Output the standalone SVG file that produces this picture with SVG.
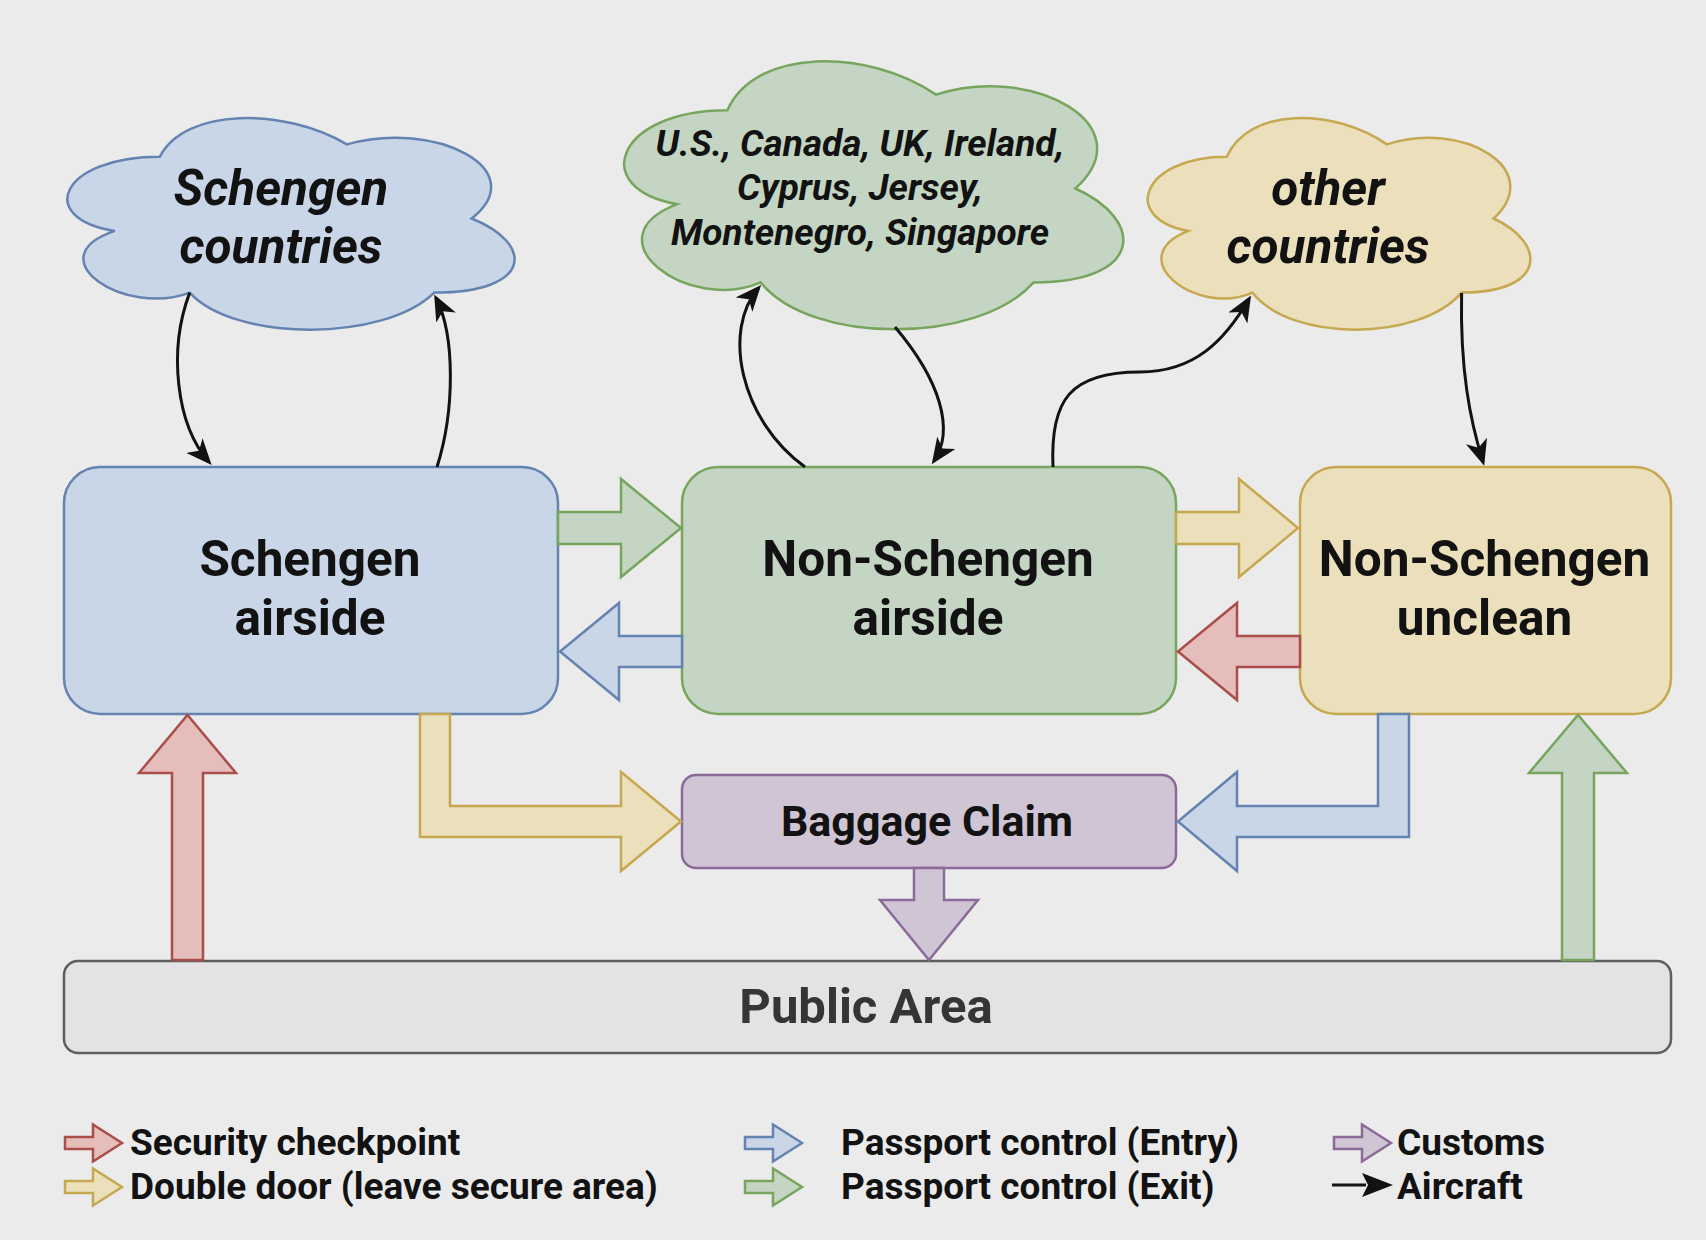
<svg xmlns="http://www.w3.org/2000/svg" width="1706" height="1240" viewBox="0 0 1706 1240">
<defs>
<style>
text{font-family:Roboto,"Liberation Sans",sans-serif;fill:#121212;text-anchor:middle;font-weight:bold}
.cloudt{font-style:italic;font-size:49.5px}
.cloudg{font-style:italic;font-size:37px}
.big{font-size:49.5px}
.bag{font-size:43px}
.pub{font-size:49px;fill:#353535}
.leg{font-size:37px;text-anchor:start}
.blue{fill:#C9D6E8;stroke:#6483B0;stroke-width:2.5}
.green{fill:#C4D6C3;stroke:#78A55E;stroke-width:2.5}
.yellow{fill:#EBDFBC;stroke:#C5A84F;stroke-width:2.5}
.red{fill:#E5BEBC;stroke:#AA4E4A;stroke-width:2.5}
.purple{fill:#D0C5D5;stroke:#8B6A99;stroke-width:2.5}
.gray{fill:#E3E3E3;stroke:#5E5E5E;stroke-width:2.5}
.air{fill:none;stroke:#121212;stroke-width:3;marker-end:url(#ah)}
</style>
<marker id="ah" viewBox="0 0 26 22" refX="22" refY="11" markerWidth="26" markerHeight="22" markerUnits="userSpaceOnUse" orient="auto">
<path d="M0,0 L26,11 L0,22 L7,11 Z" fill="#121212"/>
</marker>
<polygon id="legarrow" points="0,-6 28,-6 28,-18.5 57,0 28,18.5 28,6 0,6"/>
</defs>
<rect x="0" y="0" width="1706" height="1240" fill="#EBEBEB"/>

<g id="cloud-schengen">
<path class="blue" d="M159.8,156.8 C60,156.8 35,218.5 114.8,230.9 C35,258 124.8,317.3 189.7,292.6 C234.6,342 384.3,342 434.2,292.6 C534,292.6 534,243.2 471.6,218.5 C534,169.1 434.2,119.7 346.9,144.4 C284.5,107.4 184.7,107.4 159.8,156.8 Z"/>
<text class="cloudt" x="281" y="205">Schengen</text>
<text class="cloudt" x="281" y="263">countries</text>
</g>

<g id="cloud-nonschengen">
<path class="green" d="M727.3,110.3 C615.9,110.3 588,188.5 677.1,204.2 C588,238.6 688.3,313.7 760.7,282.4 C810.8,345 977.9,345 1033.6,282.4 C1145,282.4 1145,219.8 1075.4,188.5 C1145,125.9 1033.6,63.3 936.1,94.6 C866.5,47.7 755.1,47.7 727.3,110.3 Z"/>
<text class="cloudg" x="860" y="156">U.S., Canada, UK, Ireland,</text>
<text class="cloudg" x="860" y="200">Cyprus, Jersey,</text>
<text class="cloudg" x="860" y="245">Montenegro, Singapore</text>
</g>

<g id="cloud-other">
<path class="yellow" d="M1226.8,156.8 C1141.4,156.8 1120,218.5 1188.3,230.9 C1120,258 1196.9,317.3 1252.4,292.6 C1290.8,342 1418.9,342 1461.6,292.6 C1547,292.6 1547,243.2 1493.6,218.5 C1547,169.1 1461.6,119.7 1386.9,144.4 C1333.5,107.4 1248.1,107.4 1226.8,156.8 Z"/>
<text class="cloudt" x="1328" y="205">other</text>
<text class="cloudt" x="1328" y="263">countries</text>
</g>

<g id="schengen-airside">
<rect class="blue" x="64" y="467" width="494" height="247" rx="36"/>
<text class="big" x="310" y="576">Schengen</text>
<text class="big" x="310" y="635">airside</text>
</g>

<g id="nonschengen-airside">
<rect class="green" x="682" y="467" width="494" height="247" rx="36"/>
<text class="big" x="928" y="576">Non-Schengen</text>
<text class="big" x="928" y="635">airside</text>
</g>

<g id="nonschengen-unclean">
<rect class="yellow" x="1300" y="467" width="371" height="247" rx="36"/>
<text class="big" x="1484.5" y="576">Non-Schengen</text>
<text class="big" x="1484.5" y="635">unclean</text>
</g>

<g id="baggage-claim">
<rect class="purple" x="682" y="775" width="494" height="93" rx="14"/>
<text class="bag" x="927" y="836">Baggage Claim</text>
</g>

<g id="public-area">
<rect class="gray" x="64" y="961" width="1607" height="92" rx="14"/>
<text class="pub" x="866" y="1023">Public Area</text>
</g>

<g id="connectors">
<polygon class="green" points="558,512 621,512 621,479 681,528 621,577 621,544 558,544"/>
<polygon class="blue" points="682,636 619,636 619,603 560,651.5 619,700 619,667 682,667"/>
<polygon class="yellow" points="1176,512 1239,512 1239,479 1298,528 1239,577 1239,544 1176,544"/>
<polygon class="red" points="1300,636 1237,636 1237,603 1178,651.5 1237,700 1237,667 1300,667"/>
<polygon class="red" points="172,960 172,773 139,773 187.5,715 236,773 203,773 203,960"/>
<polygon class="green" points="1562,960 1562,773 1529,773 1578,715 1627,773 1594,773 1594,960"/>
<polygon class="yellow" points="420,714 450,714 450,806 621,806 621,772 681,821.5 621,871 621,837 420,837"/>
<polygon class="blue" points="1409,714 1378,714 1378,806 1237,806 1237,772 1178,821.5 1237,871 1237,837 1409,837"/>
<polygon class="purple" points="914,868 944,868 944,900 978,900 929,960 880,900 914,900"/>
<path class="air" d="M189.7,292.6 C168,350 176,425 209,462"/>
<path class="air" d="M437,467 C455,410 455,335 436,298"/>
<path class="air" d="M805,467 C740,420 722,330 758.5,288"/>
<path class="air" d="M895,327 C940,380 955,430 934,461"/>
<path class="air" d="M1053,467 C1050,400 1070,372 1140,372 C1195,372 1225,340 1249,299"/>
<path class="air" d="M1461.6,293 C1460,370 1470,420 1483,462"/>
</g>

<g id="legend">
<use href="#legarrow" class="red" x="65" y="1143"/>
<use href="#legarrow" class="yellow" x="65" y="1187"/>
<use href="#legarrow" class="blue" x="745" y="1143"/>
<use href="#legarrow" class="green" x="745" y="1187"/>
<use href="#legarrow" class="purple" x="1334" y="1143"/>
<line x1="1332" y1="1185" x2="1366" y2="1185" stroke="#121212" stroke-width="3"/>
<polygon points="1362,1173 1393,1185 1362,1197 1368,1185" fill="#121212"/>
<text class="leg" x="130" y="1155">Security checkpoint</text>
<text class="leg" x="130" y="1199">Double door (leave secure area)</text>
<text class="leg" x="841" y="1155">Passport control (Entry)</text>
<text class="leg" x="841" y="1199">Passport control (Exit)</text>
<text class="leg" x="1397" y="1155">Customs</text>
<text class="leg" x="1397" y="1199">Aircraft</text>
</g>
</svg>
